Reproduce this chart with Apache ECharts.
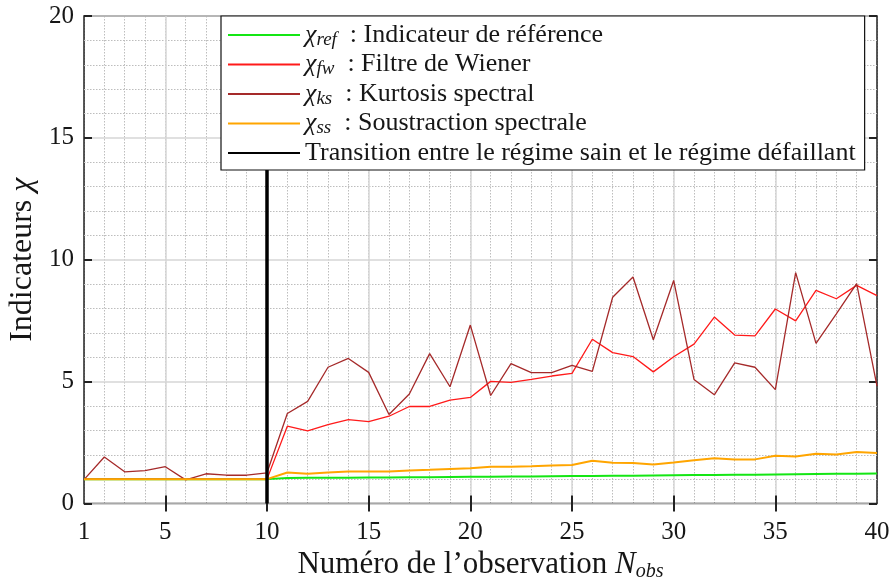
<!DOCTYPE html>
<html>
<head>
<meta charset="utf-8">
<script src="https://cdn.jsdelivr.net/npm/echarts@6/dist/echarts.min.js"></script>
<style>html,body{margin:0;padding:0;background:#fff;}#c{width:892px;height:586px;}</style>
</head>
<body>
<div id="c"></div>
<script>
const xs = [1,2,3,4,5,6,7,8,9,10,11,12,13,14,15,16,17,18,19,20,21,22,23,24,25,26,27,28,29,30,31,32,33,34,35,36,37,38,39,40];
const chiRef = [1,1,1,1,1,1,1,1,1,1, 1.05,1.06,1.06,1.06,1.07,1.07,1.08,1.08,1.09,1.10, 1.10,1.11,1.11,1.12,1.13,1.13,1.14,1.14,1.15,1.16, 1.17,1.17,1.18,1.18,1.19,1.20,1.21,1.22,1.22,1.23];
const chiFw = [1,1,1,1,1,1,1,1,1,1, 3.17,2.98,3.24,3.44,3.36,3.58,3.98,3.98,4.24,4.35, 5.01,4.97,5.09,5.23,5.34,6.74,6.19,6.03,5.40,6.02, 6.54,7.65,6.91,6.88,7.98,7.49,8.74,8.40,8.95,8.53];
const chiKs = [0.98,1.91,1.30,1.35,1.51,0.97,1.22,1.16,1.16,1.26, 3.69,4.19,5.59,5.95,5.38,3.65,4.49,6.15,4.79,7.32, 4.43,5.74,5.37,5.37,5.67,5.42,8.46,9.29,6.72,9.15, 5.09,4.46,5.77,5.59,4.67,9.47,6.57,7.78,9.02,4.82];
const chiSs = [1,1,1,1,1,1,1,1,1,1, 1.27,1.22,1.27,1.31,1.31,1.31,1.35,1.38,1.42,1.45, 1.51,1.51,1.53,1.56,1.58,1.75,1.67,1.66,1.60,1.68, 1.77,1.86,1.81,1.81,1.96,1.93,2.04,2.01,2.11,2.07];
const transX = [10,10];
const transY = [0,20];
const xLabelTicks = [1,5,10,15,20,25,30,35,40];
const xMajorTicks = [5,10,15,20,25,30,35];

const legendTexts = {
  ref: '{c|χ}{s|ref}{t|  : Indicateur de référence}',
  fw: '{c|χ}{s|fw}{t|  : Filtre de Wiener}',
  ks: '{c|χ}{s|ks}{t|  : Kurtosis spectral}',
  ss: '{c|χ}{s|ss}{t|  : Soustraction spectrale}',
  trans: '{t|Transition entre le régime sain et le régime défaillant}'
};

const FONT = 'Liberation Serif';
const INK = '#161616';
const pair = (arr) => xs.map((x, i) => [x, arr[i]]);

const chart = echarts.init(document.getElementById('c'), null, {renderer: 'canvas'});
const tickStyle = {color: '#222', width: 2};
chart.setOption({
  animation: false,
  backgroundColor: '#fff',
  grid: {left: 84, right: 15, top: 16, bottom: 82.5, outerBoundsMode: 'none', containLabel: false, show: true, borderColor: '#222', borderWidth: 1.5, backgroundColor: 'transparent'},
  legend: {
    orient: 'vertical', left: 221, top: 16,
    backgroundColor: '#fff', borderColor: '#111', borderWidth: 1.2, borderRadius: 0,
    padding: [6, 9, 4, 6], itemGap: 2.5, itemWidth: 72, itemHeight: 14,
    data: ['ref', 'fw', 'ks', 'ss', 'trans'],
    itemStyle: {opacity: 0},
    formatter: (name) => legendTexts[name],
    textStyle: {
      fontFamily: FONT, fontSize: 26, color: INK,
      rich: {
        c: {fontFamily: FONT, fontStyle: 'italic', fontSize: 26, lineHeight: 28, color: INK},
        s: {fontFamily: FONT, fontStyle: 'italic', fontSize: 19, lineHeight: 14, verticalAlign: 'bottom', color: INK},
        t: {fontFamily: FONT, fontSize: 26, lineHeight: 28, color: INK}
      }
    },
    z: 20
  },
  xAxis: [
    {
      type: 'value', min: 1, max: 40, position: 'bottom',
      axisLine: {show: false},
      axisTick: {show: true, inside: true, length: 8, lineStyle: tickStyle, customValues: xMajorTicks},
      axisLabel: {customValues: xLabelTicks, fontFamily: FONT, fontSize: 25, color: INK, margin: 16},
      splitLine: {show: true, lineStyle: {color: '#d6d6d6', width: 1.5}},
      name: '{a|Numéro de l’observation }{n|N}{s|obs}',
      nameLocation: 'middle', nameGap: 42,
      nameTextStyle: {
        fontFamily: FONT, fontSize: 31, color: INK,
        rich: {
          a: {fontFamily: FONT, fontSize: 31, lineHeight: 34, color: INK},
          n: {fontFamily: FONT, fontStyle: 'italic', fontSize: 31, lineHeight: 34, color: INK},
          s: {fontFamily: FONT, fontStyle: 'italic', fontSize: 20, lineHeight: 18, verticalAlign: 'bottom', color: INK}
        }
      }
    },
    {
      type: 'value', min: 1, max: 40, position: 'top',
      axisLine: {show: false},
      axisTick: {show: true, inside: true, length: 8, lineStyle: tickStyle, customValues: xMajorTicks},
      axisLabel: {show: false},
      splitLine: {show: false}
    },
    {
      type: 'value', min: 1, max: 40, interval: 1,
      axisLine: {show: false}, axisTick: {show: false}, axisLabel: {show: false},
      splitLine: {show: true, lineStyle: {color: '#bdbdbd', width: 1, type: [1.5, 1.5]}},
      z: -1
    }
  ],
  yAxis: [
    {
      type: 'value', min: 0, max: 20, interval: 5, position: 'left',
      axisLine: {show: false},
      axisTick: {show: true, inside: true, length: 8, lineStyle: tickStyle},
      axisLabel: {fontFamily: FONT, fontSize: 25, color: INK, margin: 10},
      splitLine: {show: true, lineStyle: {color: '#d6d6d6', width: 1.5}},
      minorTick: {show: false, splitNumber: 5},
      minorSplitLine: {show: true, lineStyle: {color: '#bdbdbd', width: 1, type: [1.5, 1.5]}},
      name: '{a|Indicateurs }{c|χ}',
      nameLocation: 'middle', nameGap: 43,
      nameTextStyle: {
        fontFamily: FONT, fontSize: 32, color: INK,
        rich: {
          a: {fontFamily: FONT, fontSize: 32, lineHeight: 36, color: INK},
          c: {fontFamily: FONT, fontStyle: 'italic', fontSize: 32, lineHeight: 36, color: INK}
        }
      }
    },
    {
      type: 'value', min: 0, max: 20, interval: 5, position: 'right',
      axisLine: {show: false},
      axisTick: {show: true, inside: true, length: 8, lineStyle: tickStyle},
      axisLabel: {show: false},
      splitLine: {show: false}
    }
  ],
  series: [
    {name: 'ref', type: 'line', data: pair(chiRef), symbol: 'none', lineStyle: {color: '#14e614', width: 2}, itemStyle: {color: '#14e614'}},
    {name: 'fw', type: 'line', data: pair(chiFw), symbol: 'none', lineStyle: {color: '#ff1a1a', width: 1.3}, itemStyle: {color: '#ff1a1a'}},
    {name: 'ks', type: 'line', data: pair(chiKs), symbol: 'none', lineStyle: {color: '#a52a2a', width: 1.3}, itemStyle: {color: '#a52a2a'}},
    {name: 'ss', type: 'line', data: pair(chiSs), symbol: 'none', lineStyle: {color: '#ffa500', width: 2}, itemStyle: {color: '#ffa500'}},
    {name: 'trans', type: 'line', data: transX.map((x, i) => [x, transY[i]]), symbol: 'none', lineStyle: {color: '#000', width: 3.5}, itemStyle: {color: '#000'}, z: 5}
  ]
});
</script>
</body>
</html>
